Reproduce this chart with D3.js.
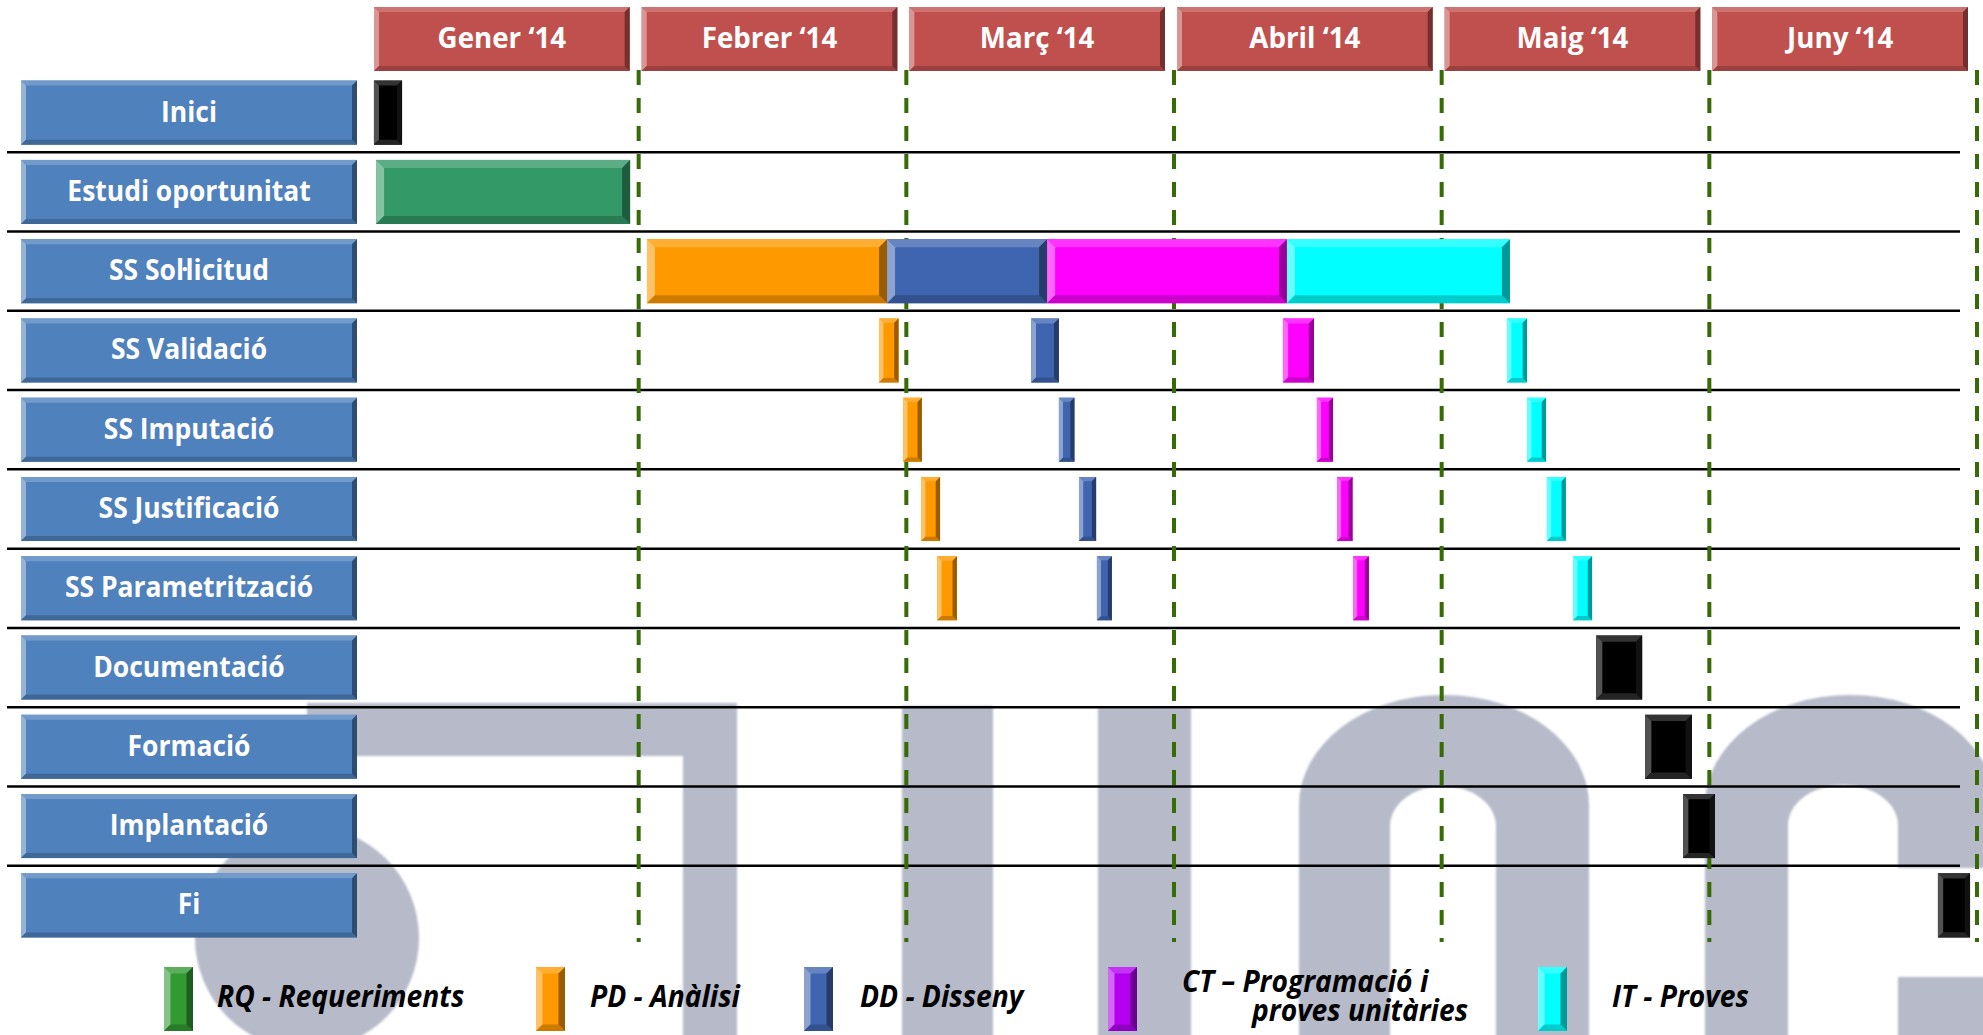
<!DOCTYPE html>
<html lang="ca">
<head>
<meta charset="utf-8">
<title>Planificació SS</title>
<script src="https://cdnjs.cloudflare.com/ajax/libs/d3/7.8.5/d3.min.js"></script>
<style>
  body { margin: 0; background: #fff; }
  svg { display: block; }
  text { font-family: "Open Sans", "Liberation Sans", sans-serif; font-weight: 700; }
</style>
</head>
<body>
<div id="chart"></div>
<script>

// tasks (rows) and months (columns)
const tasks = ["Inici", "Estudi oportunitat", "SS Sol·licitud", "SS Validació", "SS Imputació",
               "SS Justificació", "SS Parametrització", "Documentació", "Formació", "Implantació", "Fi"];
const months = ["Gener ‘14", "Febrer ‘14", "Març ‘14", "Abril ‘14", "Maig ‘14", "Juny ‘14"];

// bars: start / end are in months from 1 Jan 2014
const barTask  = ["Inici", "Estudi oportunitat",
                  "SS Sol·licitud", "SS Sol·licitud", "SS Sol·licitud", "SS Sol·licitud",
                  "SS Validació", "SS Validació", "SS Validació", "SS Validació",
                  "SS Imputació", "SS Imputació", "SS Imputació", "SS Imputació",
                  "SS Justificació", "SS Justificació", "SS Justificació", "SS Justificació",
                  "SS Parametrització", "SS Parametrització", "SS Parametrització", "SS Parametrització",
                  "Documentació", "Formació", "Implantació", "Fi"];
const barPhase = ["MS", "RQ",
                  "PD", "DD", "CT", "IT",
                  "PD", "DD", "CT", "IT",
                  "PD", "DD", "CT", "IT",
                  "PD", "DD", "CT", "IT",
                  "PD", "DD", "CT", "IT",
                  "MS", "MS", "MS", "MS"];
const barStart = [0.011, 0.019,
                  1.031, 1.928, 2.526, 3.422,
                  1.898, 2.466, 3.407, 4.244,
                  1.988, 2.570, 3.534, 4.319,
                  2.055, 2.645, 3.609, 4.393,
                  2.115, 2.712, 3.669, 4.491,
                  4.577, 4.760, 4.902, 5.854];
const barEnd   = [0.116, 0.968,
                  1.928, 2.526, 3.422, 4.255,
                  1.971, 2.570, 3.523, 4.319,
                  2.058, 2.628, 3.594, 4.390,
                  2.126, 2.709, 3.667, 4.464,
                  2.189, 2.768, 3.728, 4.562,
                  4.749, 4.935, 5.021, 5.974];

// legend
const legendPhases = ["RQ", "PD", "DD", "CT", "IT"];
const legendLabels = [["RQ - Requeriments"], ["PD - Anàlisi"], ["DD - Disseny"],
                      ["CT – Programació i", "proves unitàries"], ["IT - Proves"]];

// colours
const phaseColor  = {RQ: "#339966", PD: "#ff9900", DD: "#4065b0", CT: "#ff00ff", IT: "#00ffff", MS: "#000000"};
const legendColor = {RQ: "#339933", PD: "#ff9900", DD: "#4065b0", CT: "#b400f0", IT: "#00ffff"};
const labelColor = "#4f81bd";
const headColor = "#c0504d";

// layout
const W = 1983, H = 1035;
const labelX0 = 21, labelX1 = 357;
const lineX0 = 7, lineX1 = 1960;
const legendSwatchX = [164, 536, 804, 1108, 1538];
const legendTextX = [[217], [590], [860], [1182, 1252], [1612]];
const condense = 0.945;      // approx Calibri width with Open Sans
const condenseHead = 0.99;
const condenseLegend = 0.94;

const svg = d3.select("#chart").append("svg")
    .attr("width", W).attr("height", H);

const defs = svg.append("defs");
defs.append("filter").attr("id", "soft")
    .append("feGaussianBlur").attr("stdDeviation", 1.2);

const xScale = d3.scaleLinear().domain([0, 6]).range([371, 1977]);
const yScale = d3.scaleBand().domain(tasks).range([73, 945])
    .paddingInner(0.192).paddingOuter(0.096);
const step = yScale.step();

function shades(c) {
  const lt = t => d3.interpolateRgb(c, "#fff")(t);
  const dk = t => d3.interpolateRgb(c, "#000")(t);
  if (c === "#000000") return [lt(0.2), lt(0.32), lt(0.14), lt(0.07)];
  return [lt(0.2), lt(0.4), dk(0.2), dk(0.4)];
}

// face + 4 bevel trapezoids (top, left, bottom, right)
function bevelBox(g, x, y, w, h, b, fill) {
  const s = shades(fill);
  g.append("rect").attr("x", x).attr("y", y).attr("width", w).attr("height", h).attr("fill", fill);
  const polys = [
    [[x, y], [x + w, y], [x + w - b, y + b], [x + b, y + b]],
    [[x, y], [x + b, y + b], [x + b, y + h - b], [x, y + h]],
    [[x, y + h], [x + b, y + h - b], [x + w - b, y + h - b], [x + w, y + h]],
    [[x + w, y], [x + w, y + h], [x + w - b, y + h - b], [x + w - b, y + b]]
  ];
  polys.forEach((p, i) => g.append("polygon")
      .attr("points", p.map(d => d.join(",")).join(" "))
      .attr("fill", s[i]));
}

// watermark (grey letters in the background)
const wm = svg.append("g").attr("fill", "#b6bac9").attr("filter", "url(#soft)");
wm.append("circle").attr("cx", 307).attr("cy", 938).attr("r", 112);
wm.append("path").attr("d", "M307,703 H737 V1045 H683 V756 H307 Z");
wm.append("path").attr("d", "M902,706 H993 V1045 H902 Z M1098,708 H1191 V1045 H1098 Z");
wm.append("path").attr("fill-rule", "evenodd")
    .attr("d", "M1299,1045 V805 A145,110 0 0 1 1589,805 V1045 Z M1390,1045 V826 A53,40 0 0 1 1496,826 V1045 Z");
wm.append("path").attr("fill-rule", "evenodd")
    .attr("d", "M1705,1045 V805 A145,110 0 0 1 1995,805 V1045 Z M1788,1045 V825 A55,40 0 0 1 1898,825 V1045 Z M1898,868 H1999 V977 H1898 Z");

// row separators
svg.append("g").selectAll("line")
  .data(tasks.slice(1))
  .join("line")
    .attr("x1", lineX0).attr("x2", lineX1)
    .attr("y1", d => yScale(d) - (step - yScale.bandwidth()) / 2)
    .attr("y2", d => yScale(d) - (step - yScale.bandwidth()) / 2)
    .attr("stroke", "#000").attr("stroke-width", 2.5);

// month boundaries
svg.append("g").selectAll("line")
  .data(d3.range(1, months.length + 1))
  .join("line")
    .attr("x1", d => xScale(d)).attr("x2", d => xScale(d))
    .attr("y1", 70).attr("y2", 942)
    .attr("stroke", "#376b06").attr("stroke-width", 4)
    .attr("stroke-dasharray", "15,13");

// month headers
const head = svg.append("g");
months.forEach((m, i) => {
  const x0 = xScale(i) + 3, w = xScale(i + 1) - xScale(i) - 12;
  bevelBox(head, x0, 7, w, 64, 5, headColor);
  head.append("text")
      .attr("transform", `translate(${x0 + w / 2},${7 + 32 + 9}) scale(${condenseHead},1)`)
      .attr("text-anchor", "middle").attr("fill", "#fff").attr("font-size", 28)
      .text(m);
});

// row labels
const lab = svg.append("g");
tasks.forEach(t => {
  const y0 = yScale(t), h = yScale.bandwidth();
  bevelBox(lab, labelX0, y0, labelX1 - labelX0, h, 5, labelColor);
  lab.append("text")
      .attr("transform", `translate(${(labelX0 + labelX1) / 2},${y0 + h / 2 + 9}) scale(${condense},1)`)
      .attr("text-anchor", "middle").attr("fill", "#fff").attr("font-size", 28)
      .text(t);
});

// gantt bars
const bars = svg.append("g");
barTask.forEach((t, i) => {
  const x0 = xScale(barStart[i]), x1 = xScale(barEnd[i]);
  const w = x1 - x0, h = yScale.bandwidth();
  const b = Math.min(8, 3 + w * 0.07);
  bevelBox(bars, x0, yScale(t), w, h, b, phaseColor[barPhase[i]]);
});

// legend (two-line label kept in one text element)
const leg = svg.append("g");
legendPhases.forEach((p, i) => {
  bevelBox(leg, legendSwatchX[i], 967, 29, 64, 6.5, legendColor[p]);
  const lines = legendLabels[i];
  const txt = leg.append("text")
      .attr("transform", `scale(${condenseLegend},1)`)
      .attr("font-style", "italic").attr("font-size", 30).attr("fill", "#000");
  lines.forEach((s, j) => {
    const yb = lines.length === 1 ? 1007 : 992 + j * 29;
    txt.append("tspan")
        .attr("x", legendTextX[i][j] / condenseLegend)
        .attr("y", yb)
        .text(s);
  });
});

</script>
</body>
</html>
